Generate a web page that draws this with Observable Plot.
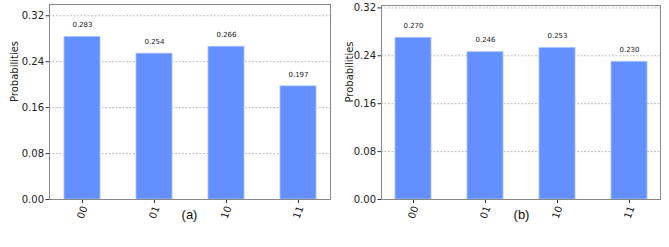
<!DOCTYPE html>
<html>
<head>
<meta charset="utf-8">
<script src="https://cdn.jsdelivr.net/npm/d3@7"></script>
<script src="https://cdn.jsdelivr.net/npm/@observablehq/plot@0.6"></script>
<style>
  body { margin: 0; background: #fff; }
  #wrap { position: relative; width: 669px; height: 247px; overflow: hidden; }
  #wrap > div { position: absolute; top: 0; }
  svg { font-family: "DejaVu Sans", sans-serif; }
</style>
</head>
<body>
<div id="wrap"><div id="pa"></div><div id="pb"></div></div>
<script>
const states = ["00", "01", "10", "11"];
const probsA = [0.283, 0.254, 0.266, 0.197];
const probsB = [0.270, 0.246, 0.253, 0.230];
const yTicks = [0, 0.08, 0.16, 0.24, 0.32];
const panelLabels = ["(a)", "(b)"];

function panel(probs, label, opts) {
  const data = states.map((s, i) => ({state: s, p: probs[i]}));
  const ymax = d3.max(probs) * 1.2;
  return Plot.plot({
    width: opts.width, height: 247,
    marginLeft: opts.ml, marginRight: opts.mr, marginTop: opts.mt, marginBottom: 48,
    style: {fontFamily: "DejaVu Sans, sans-serif", background: "#fff", overflow: "visible"},
    x: {domain: states, paddingInner: 0.5, paddingOuter: 0.18, label: null},
    y: {domain: [0, ymax], ticks: yTicks, label: null},
    marks: [
      Plot.gridY(yTicks.filter(d => d > 0), {stroke: "#b0b0b0", strokeOpacity: 1, strokeDasharray: "2,1.5", strokeWidth: 0.8}),
      Plot.barY(data, {x: "state", y: "p", fill: "#648fff", stroke: "#a9c0ff", strokeWidth: 0.8}),
      Plot.text(data, {x: "state", y: "p", text: d => d.p.toFixed(3), dy: -12, fontSize: 7, fill: "#222"}),
      Plot.axisY({ticks: yTicks, tickFormat: d3.format(".2f"), tickSize: 3.5, tickPadding: 2, fontSize: 10, stroke: "#333", color: "#222", label: null}),
      Plot.axisX({tickSize: 4, tickPadding: 9, tickRotate: -70, textAnchor: "middle", lineAnchor: "middle", fontSize: 10, stroke: "#333", color: "#222", label: null}),
      Plot.frame({stroke: "#888", strokeWidth: 1}),
      Plot.text([label], {frameAnchor: "bottom-left", dx: opts.labelX - opts.ml, dy: 19, text: d => d, fontSize: 13, fontFamily: "Liberation Sans, Arial, sans-serif", fill: "#111", textAnchor: "middle"}),
      Plot.text(["Probabilities"], {frameAnchor: "left", dx: -opts.ml + opts.ylabX, rotate: -90, text: d => d, fontSize: 10, fill: "#222"})
    ]
  });
}

const a = panel(probsA, panelLabels[0], {width: 334, ml: 49, mr: 4, mt: 4, labelX: 189, ylabX: 14});
const b = panel(probsB, panelLabels[1], {width: 335, ml: 47, mr: 9, mt: 5, labelX: 187, ylabX: 15});
document.getElementById("pa").append(a);
const pb = document.getElementById("pb");
pb.style.left = "334px";
pb.append(b);
</script>
</body>
</html>
